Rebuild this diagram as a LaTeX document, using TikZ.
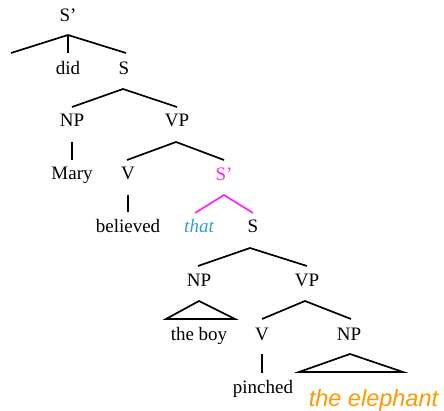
\documentclass[tikz,border=0pt]{standalone}
\usepackage{fontspec}
\setmainfont{Liberation Serif}
\newfontfamily\elfont{Liberation Sans}
\definecolor{spcol}{HTML}{FF22FF}
\definecolor{thatcol}{HTML}{3A9AD0}
\definecolor{elcol}{HTML}{FF9900}
\begin{document}
\begin{tikzpicture}[x=1pt,y=-1pt,
  lab/.style={font=\fontsize{19}{22}\selectfont, anchor=base, inner sep=0pt},
  br/.style={line width=1.7pt}]
\useasboundingbox (0,0) rectangle (444,411);

% labels
\node[lab] (sp1) at (68,22) {S\symbol{"27}};
\node[lab] (did) at (68,75) {did};
\node[lab] (s1) at (124,75) {S};
\node[lab] (np1) at (72,127) {NP};
\node[lab] (vp1) at (177,127) {VP};
\node[lab] (mary) at (72,180) {Mary};
\node[lab] (v1) at (128,180) {V};
\node[lab, text=spcol] (sp2) at (224,181) {S\symbol{"27}};
\node[lab] (believed) at (128,233) {believed};
\node[lab, text=thatcol, font=\fontsize{19}{22}\selectfont\itshape] (that) at (199,233) {that};
\node[lab] (s2) at (253,233) {S};
\node[lab] (np2) at (199,287) {NP};
\node[lab] (vp2) at (307,287) {VP};
\node[lab] (theboy) at (199,340) {the boy};
\node[lab] (v2) at (262,340) {V};
\node[lab] (np3) at (349,340) {NP};
\node[lab] (pinched) at (263,393) {pinched};
\node[anchor=base, inner sep=0pt, text=elcol, font=\fontsize{23.5}{26}\selectfont\elfont\itshape] (eleph) at (373.5,406) {the elephant};

% branch points
\coordinate (a1) at (68,35);
\coordinate (a1l) at (11,53);
\coordinate (a1m) at (68,53);
\coordinate (a1r) at (126,53);
\coordinate (a2) at (123,89);
\coordinate (a2l) at (72,107);
\coordinate (a2r) at (177,107);
\coordinate (a3t) at (72,142);
\coordinate (a3b) at (72,160);
\coordinate (a4) at (176,142);
\coordinate (a4l) at (127,160);
\coordinate (a4r) at (224,160);
\coordinate (a5t) at (128,195);
\coordinate (a5b) at (128,212);
\coordinate (a6) at (224,195);
\coordinate (a6l) at (195,213);
\coordinate (a6r) at (253,213);
\coordinate (a7) at (250,248);
\coordinate (a7l) at (198,266);
\coordinate (a7r) at (307,266);
\coordinate (t1) at (199,301);
\coordinate (t1l) at (166,319);
\coordinate (t1r) at (235,319);
\coordinate (a8) at (305,301);
\coordinate (a8l) at (262,319);
\coordinate (a8r) at (351,319);
\coordinate (a9t) at (262,354);
\coordinate (a9b) at (262,373);
\coordinate (t2) at (350,354);
\coordinate (t2l) at (299,372);
\coordinate (t2r) at (403,372);

% branches
\draw[br] (a1l) -- (a1) -- (a1r) (a1) -- (a1m);
\draw[br] (a2l) -- (a2) -- (a2r);
\draw[br] (a3t) -- (a3b);
\draw[br] (a4l) -- (a4) -- (a4r);
\draw[br] (a5t) -- (a5b);
\draw[br, spcol] (a6l) -- (a6) -- (a6r);
\draw[br] (a7l) -- (a7) -- (a7r);
\draw[br, line join=miter] (t1) -- (t1l) -- (t1r) -- cycle;
\draw[br] (a8l) -- (a8) -- (a8r);
\draw[br] (a9t) -- (a9b);
\draw[br, line join=miter] (t2) -- (t2l) -- (t2r) -- cycle;
\end{tikzpicture}
\end{document}
